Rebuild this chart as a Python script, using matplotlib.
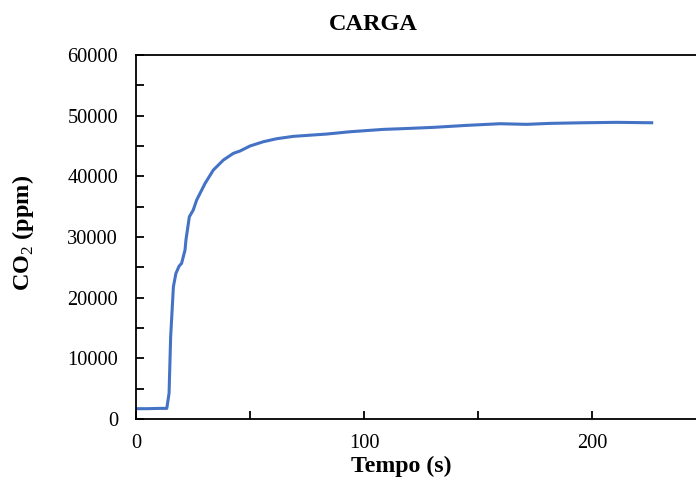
import matplotlib
matplotlib.use("Agg")
import matplotlib.pyplot as plt
from matplotlib.ticker import MultipleLocator

# values (time in s, CO2 in ppm)
tempo = [0, 5, 10, 13.5, 14.5, 15.2, 16.4, 17.5, 18.9, 20, 21.5, 21.9, 23.4, 25.1,
         26.6, 30.3, 33.9, 38.3, 42.7, 45.6, 50, 55.8, 61.7, 69, 83.6, 93.9,
         108.5, 115.8, 130.4, 145, 159.6, 171.4, 181.6, 196.2, 210.8, 226.2]
co2 = [1700, 1700, 1750, 1750, 4240, 13560, 21800, 24000, 25200, 25660, 27850,
       29500, 33340, 34440, 36090, 38840, 41030, 42680, 43790, 44170, 45000,
       45700, 46200, 46590, 46970, 47350, 47740, 47840, 48070, 48400, 48670,
       48570, 48730, 48830, 48900, 48830]

plt.rcParams['font.family'] = ['Liberation Serif', 'DejaVu Serif']
plt.rcParams['mathtext.fontset'] = 'custom'
plt.rcParams['mathtext.rm'] = 'Liberation Serif'
plt.rcParams['mathtext.bf'] = 'Liberation Serif:bold'

fig = plt.figure(figsize=(6.96, 4.8), dpi=100)
ax = fig.add_axes([136/696, 61/480, 570/696, 364/480])

ax.plot(tempo, co2, color='#4472C4', lw=2.2)

ax.set_xlim(0, 250)
ax.set_ylim(0, 60000)
ax.xaxis.set_major_locator(MultipleLocator(100))
ax.xaxis.set_minor_locator(MultipleLocator(50))
ax.yaxis.set_major_locator(MultipleLocator(10000))
ax.yaxis.set_minor_locator(MultipleLocator(5000))
ax.tick_params(which='both', direction='in', length=6, width=1.3, labelsize=14.7)
ax.tick_params(axis='x', pad=11)
ax.tick_params(axis='y', pad=13)
for s in ax.spines.values():
    s.set_linewidth(1.3)

fig.text(373/696, 1 - 25/480, 'CARGA', ha='center', va='center',
         fontsize=17.5, fontweight='bold')
fig.text(401/696, 1 - 466/480, 'Tempo (s)', ha='center', va='center',
         fontsize=17.2, fontweight='bold')
fig.text(23/696, 1 - 233/480, r'CO$_\mathrm{2}$ (ppm)', ha='center', va='center',
         rotation=90, fontsize=17.5, fontweight='bold')

fig.savefig('out.png', dpi=100)
